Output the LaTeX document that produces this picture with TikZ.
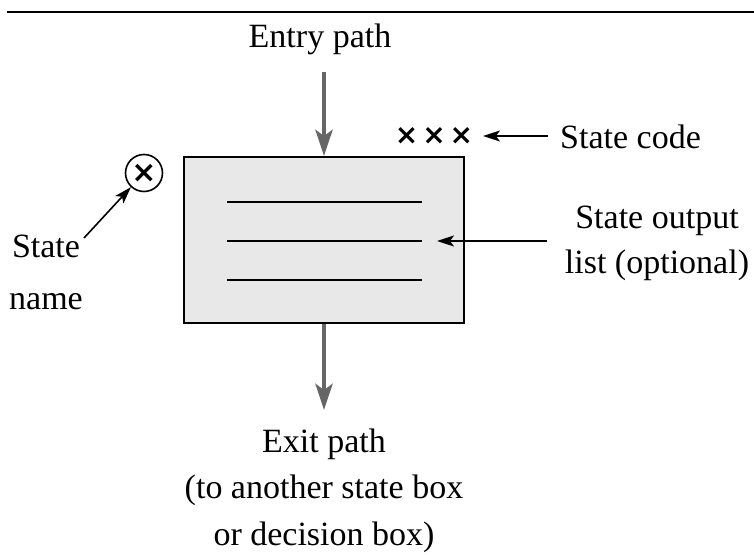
\documentclass[tikz,border=0pt]{standalone}
\usepackage{fontspec}
\setmainfont{Liberation Serif}
\newfontfamily\symfont{DejaVu Sans}
\usetikzlibrary{arrows.meta}
\definecolor{boxfill}{HTML}{E8E8E8}
\definecolor{flowgray}{HTML}{666666}
\begin{document}
\begin{tikzpicture}[x=1pt,y=-1pt,
  lbl/.style={inner sep=0pt, font=\fontsize{34}{46.5}\selectfont},
  thinarrow/.style={line width=1.6pt, -{Stealth[length=17pt,width=11pt,inset=4pt]}},
  grayarrow/.style={draw=flowgray, line width=4.5pt, -{Stealth[length=26pt,width=17pt,inset=6pt]}, fill=flowgray},
  statebox/.style={draw, line width=2pt, fill=boxfill, minimum width=280pt, minimum height=166pt, inner sep=0pt},
  listline/.style={line width=2pt},
  crossmark/.style={inner sep=0pt, font=\symfont\bfseries\fontsize{28}{28}\selectfont}
]
\useasboundingbox (0,0) rectangle (754,554);
% top rule
\coordinate (ruleL) at (7,11.5);
\coordinate (ruleR) at (754,11.5);
\draw[line width=2pt] (ruleL) -- (ruleR);

% state box
\node[statebox] (box) at (324,240) {};
\coordinate (l1a) at (227,202); \coordinate (l1b) at (422,202);
\coordinate (l2a) at (227,241); \coordinate (l2b) at (422,241);
\coordinate (l3a) at (227,280); \coordinate (l3b) at (422,280);
\draw[listline] (l1a) -- (l1b);
\draw[listline] (l2a) -- (l2b);
\draw[listline] (l3a) -- (l3b);

% entry / exit
\node[lbl, anchor=base] (entry) at (320,47) {Entry path};
\coordinate (entrytop) at (324,72);
\draw[grayarrow] (entrytop) -- (box.north);
\coordinate (exittip) at (324,410);
\draw[grayarrow] (box.south) -- (exittip);
\node[lbl, anchor=base, align=center] (exit) at (324,545) {Exit path\\(to another state box\\or decision box)};

% state code
\node[crossmark] (xxx) at (434,136) {×\kern4pt×\kern4pt×};
\node[lbl, anchor=base west] (code) at (560,148) {State code};
\coordinate (scA) at (548,136);
\coordinate (scB) at (483,136);
\draw[thinarrow] (scA) -- (scB);

% state output list
\node[lbl, anchor=base, align=center, font=\fontsize{34}{45}\selectfont] (outlist) at (657,273) {State output\\list (optional)};
\coordinate (olA) at (547,241);
\coordinate (olB) at (437,241);
\draw[thinarrow] (olA) -- (olB);

% state name
\node[circle, draw, line width=1.6pt, minimum size=37pt, inner sep=0pt] (sname) at (144,173) {};
\node[crossmark, font=\symfont\bfseries\fontsize{30}{30}\selectfont] (snx) at (sname.center) {×};
\node[lbl, anchor=base, align=center, font=\fontsize{34}{52}\selectfont] (namelbl) at (46,309) {State\\name};
\coordinate (snA) at (84,238);
\draw[thinarrow] (snA) -- (sname);
\end{tikzpicture}
\end{document}
